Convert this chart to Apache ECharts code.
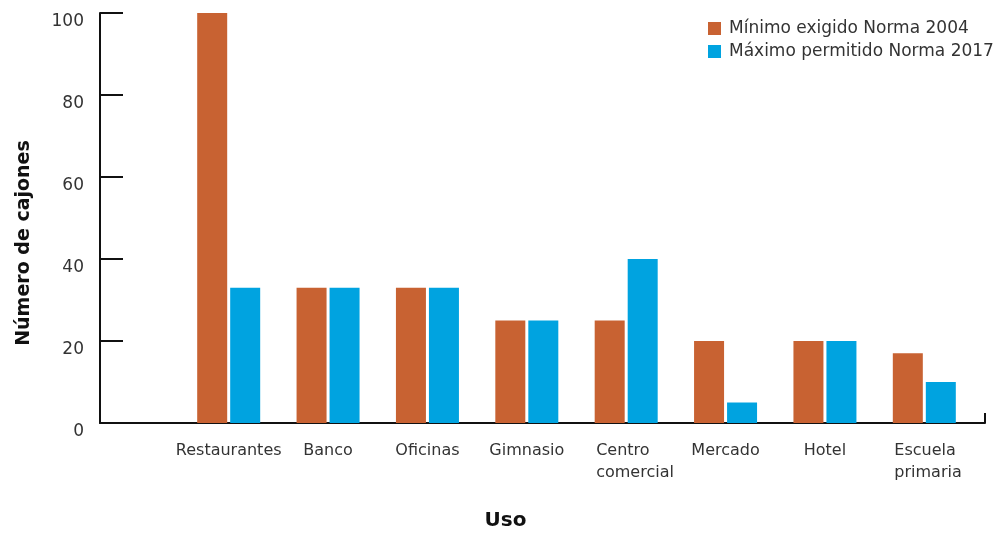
<!DOCTYPE html>
<html>
<head>
<meta charset="utf-8">
<script src="https://cdn.jsdelivr.net/npm/echarts@6/dist/echarts.min.js"></script>
<style>
  html, body { margin: 0; padding: 0; background: #fff; }
  #chart { width: 1003px; height: 534px; }
</style>
</head>
<body>
<div id="chart"></div>
<script>
// Uso de suelo y número de cajones de estacionamiento
const categories = ['Restaurantes', 'Banco', 'Oficinas', 'Gimnasio', 'Centro\ncomercial', 'Mercado', 'Hotel', 'Escuela\nprimaria'];
const minimo2004 = [100, 33, 33, 25, 25, 20, 20, 17];
const maximo2017 = [33, 33, 33, 25, 40, 5, 20, 10];
const seriesNames = ['Mínimo exigido Norma 2004', 'Máximo permitido Norma 2017'];
const yTicks = { min: 0, max: 100, interval: 20 };

const FONT = "'DejaVu Sans', 'Noto Sans', sans-serif";
const TEXT = '#333333';
const ORANGE = '#C86232';
const BLUE = '#00A3E0';

const chart = echarts.init(document.getElementById('chart'), null, { renderer: 'canvas' });

chart.setOption({
  backgroundColor: '#ffffff',
  animation: false,
  textStyle: { fontFamily: FONT },
  legend: {
    orient: 'vertical',
    left: 703,
    top: 15,
    itemWidth: 13,
    itemHeight: 13,
    itemGap: 6,
    icon: 'rect',
    textStyle: { fontFamily: FONT, fontSize: 17, color: TEXT, padding: [0, 0, 0, 3] },
    data: seriesNames
  },
  grid: [
    // frame grid: axis lines, ticks and y labels
    { left: 100, right: 18, top: 13, bottom: 111, outerBoundsMode: 'none', containLabel: false },
    // bar grid
    { left: 179, right: 29, top: 13, bottom: 111, outerBoundsMode: 'none', containLabel: false }
  ],
  xAxis: [
    {
      gridIndex: 0,
      type: 'category',
      data: ['', ''],
      boundaryGap: false,
      axisLine: { show: true, lineStyle: { color: '#111', width: 2 } },
      axisTick: { show: true, inside: true, length: 10, lineStyle: { color: '#111', width: 2 } },
      axisLabel: { show: false },
      splitLine: { show: false },
      name: 'Uso',
      nameLocation: 'middle',
      nameGap: 88,
      nameTextStyle: { fontFamily: FONT, fontSize: 20, fontWeight: 'bold', color: '#111', padding: [0, 74, 0, 0] }
    },
    {
      gridIndex: 1,
      type: 'category',
      data: categories,
      axisLine: { show: false },
      axisTick: { show: false },
      axisLabel: {
        fontFamily: FONT, fontSize: 16, color: TEXT, margin: 17,
        lineHeight: 22, interval: 0,
        formatter: v => (v.indexOf('\n') >= 0 ? '{ml|' + v + '}' : v),
        rich: {
          ml: { fontFamily: FONT, fontSize: 16, color: TEXT, lineHeight: 22, width: 60, align: 'left' }
        }
      }
    }
  ],
  yAxis: [
    {
      gridIndex: 0,
      type: 'value',
      min: yTicks.min,
      max: yTicks.max,
      interval: yTicks.interval,
      axisLine: { show: true, lineStyle: { color: '#111', width: 2 } },
      axisTick: { show: true, inside: true, length: 23, lineStyle: { color: '#111', width: 2 } },
      axisLabel: { fontFamily: FONT, fontSize: 17, color: TEXT, margin: 16, verticalAlign: 'top' },
      splitLine: { show: false },
      name: 'Número de cajones',
      nameLocation: 'middle',
      nameGap: 66,
      nameRotate: 90,
      nameTextStyle: { fontFamily: FONT, fontSize: 19, fontWeight: 'bold', color: '#111', padding: [0, 50, 0, 0] }
    },
    {
      gridIndex: 1,
      type: 'value',
      min: yTicks.min,
      max: yTicks.max,
      interval: yTicks.interval,
      show: false
    }
  ],
  series: [
    {
      name: seriesNames[0],
      type: 'bar',
      xAxisIndex: 1,
      yAxisIndex: 1,
      data: minimo2004,
      barWidth: 30,
      barGap: '10%',
      itemStyle: { color: ORANGE }
    },
    {
      name: seriesNames[1],
      type: 'bar',
      xAxisIndex: 1,
      yAxisIndex: 1,
      data: maximo2017,
      barWidth: 30,
      barGap: '10%',
      itemStyle: { color: BLUE }
    }
  ]
});
</script>
</body>
</html>
